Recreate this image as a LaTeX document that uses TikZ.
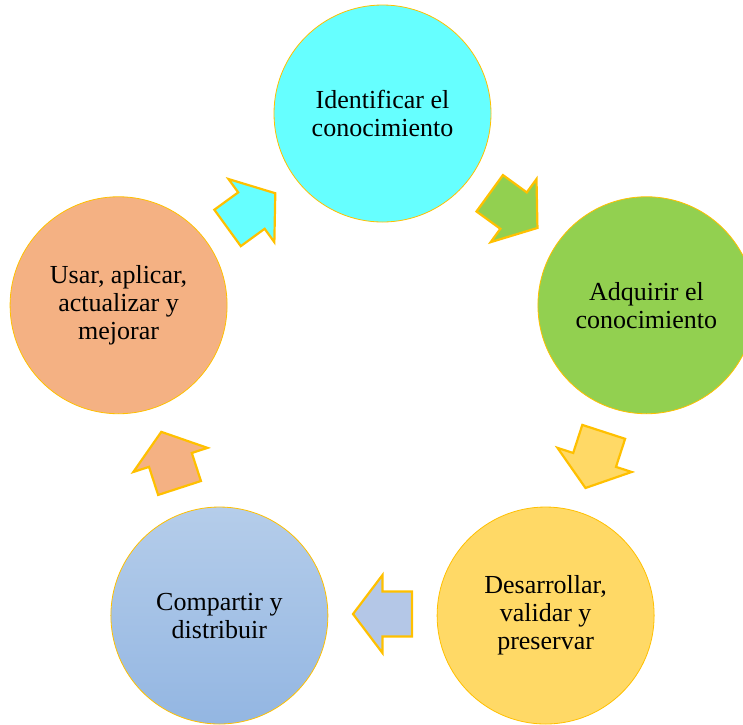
\documentclass[tikz,border=0pt]{standalone}
\usepackage{fontspec}
\setmainfont{Liberation Serif}
\usetikzlibrary{calc}

\definecolor{rimgold}{HTML}{FFC000}
\definecolor{cyanfill}{HTML}{66FFFF}
\definecolor{greenfill}{HTML}{92D050}
\definecolor{yellowfill}{HTML}{FFD966}
\definecolor{orangefill}{HTML}{F4B183}
\definecolor{bluetop}{HTML}{B5CDEA}
\definecolor{bluebottom}{HTML}{93B6E2}
\definecolor{bluearrow}{HTML}{B4C7E7}

\tikzset{
  stage/.style={circle, draw=rimgold, line width=0.8pt, minimum size=217pt,
    inner sep=0pt, align=center, text=black,
    font=\fontsize{26}{28}\selectfont},
  cyclearrow/.style={draw=rimgold, line width=2.2pt, line join=miter},
}

\begin{document}
\begin{tikzpicture}[x=1pt, y=1pt]
  \useasboundingbox (0,0) rectangle (743,-724);
  \clip (0,0) rectangle (743,-724);

  % centre of the cycle
  \coordinate (c) at (382.5,-391);

  % the five stages
  \node[stage, fill=cyanfill]   (s1) at ($(c)+(90:277.5)$)  {Identificar el\\conocimiento};
  \node[stage, fill=greenfill]  (s2) at ($(c)+(18:277.5)$)  {Adquirir el\\conocimiento};
  \node[stage, fill=yellowfill] (s3) at ($(c)+(-54:277.5)$) {Desarrollar,\\validar y\\preservar};
  \node[stage, top color=bluetop, bottom color=bluebottom]
                                (s4) at ($(c)+(-126:277.5)$) {Compartir y\\distribuir};
  \node[stage, fill=orangefill] (s5) at ($(c)+(162:277.5)$) {Usar, aplicar,\\actualizar y\\mejorar};

  % block arrows between consecutive stages, pointing clockwise
  \foreach \ang/\col in {126/cyanfill, 54/greenfill, -18/yellowfill, -90/bluearrow, 198/orangefill}{
    \draw[cyclearrow, fill=\col, shift={(c)}, shift={(\ang:223)}, rotate=\ang-90]
      (-29.5,-22.5) -- (0,-22.5) -- (0,-39) -- (29.5,0) -- (0,39) -- (0,22.5) -- (-29.5,22.5) -- cycle;
  }
\end{tikzpicture}
\end{document}
